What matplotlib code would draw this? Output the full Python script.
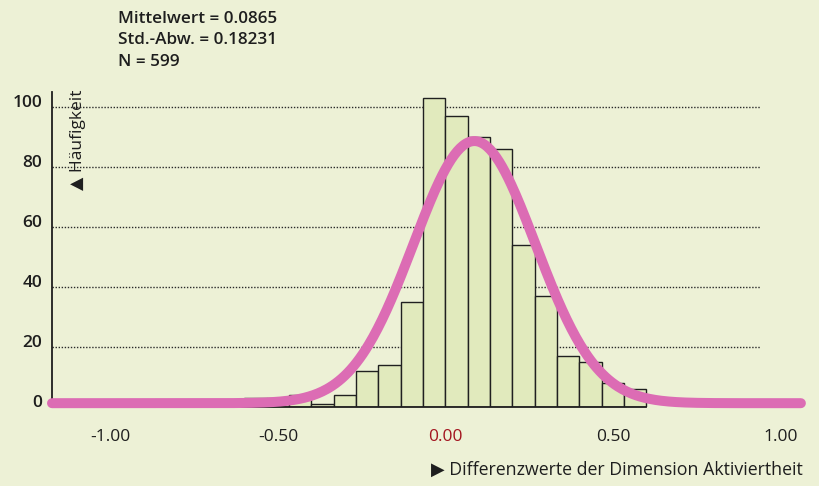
import numpy as np
import matplotlib
matplotlib.use("Agg")
import matplotlib.pyplot as plt
import matplotlib.transforms as mtransforms

# histogram data (bins of width 1/15 from -0.6 to 0.6)
bin_start = -0.6
bin_width = 1 / 15
counts = [3, 3, 4, 1, 4, 12, 14, 35, 103, 97, 90, 86, 54, 37, 17, 15, 8, 6]

# stats shown in the chart, used for the normal curve
mean = 0.0865
std = 0.18231
n = 599

x_ticks = [-1.0, -0.5, 0.0, 0.5, 1.0]
x_tick_labels = ["-1.00", "-0.50", "0.00", "0.50", "1.00"]
y_ticks = [0, 20, 40, 60, 80, 100]
y_tick_labels = ["0", "20", "40", "60", "80", "100"]

x_min, x_max = -1.1746, 1.075
curve_end = 1.061

bg = "#edf1d6"
bar_fill = "#e1eabd"
pink = "#dc6cb4"
ink = "#1e1e1e"
red = "#a3141f"

plt.rcParams['font.family'] = ['Open Sans', 'DejaVu Sans']

fig = plt.figure(figsize=(8.19, 4.86), dpi=100, facecolor=bg)
ax = fig.add_axes([0.0635, 0.1632, 0.9201, 0.6481])
ax.set_facecolor(bg)

# dotted grid lines, stopping short of the right edge
for y in y_ticks[1:]:
    ax.hlines(y, x_min, 0.94, colors="#2a2a2a", linestyles=(0, (1, 1.2)),
              linewidth=1.0, zorder=1)

edges = bin_start + bin_width * np.arange(len(counts))
ax.bar(edges, counts, width=bin_width, align='edge', color=bar_fill,
       edgecolor="#202020", linewidth=1.0, zorder=2)

# normal curve from the shown mean / std / N, line sits on the baseline
xs = np.linspace(x_min, curve_end, 500)
ys = n * bin_width * np.exp(-0.5 * ((xs - mean) / std) ** 2) / (std * np.sqrt(2 * np.pi))
lift = mtransforms.offset_copy(ax.transData, fig=fig, y=3.5, units='dots')
ax.plot(xs, ys, color=pink, linewidth=7.2, solid_capstyle='round',
        transform=lift, zorder=3, clip_on=False)

ax.set_xlim(x_min, x_max)
ax.set_ylim(0, 105)

for side in ['top', 'right']:
    ax.spines[side].set_visible(False)
ax.spines['left'].set_color(ink)
ax.spines['left'].set_linewidth(1.3)
ax.spines['bottom'].set_color(ink)
ax.spines['bottom'].set_linewidth(1.3)
ax.spines['bottom'].set_bounds(x_min, bin_start + bin_width * len(counts))

ax.set_xticks(x_ticks)
ax.set_xticklabels(x_tick_labels, fontweight='medium')
ax.set_yticks(y_ticks)
ax.set_yticklabels(y_tick_labels, fontweight='semibold')
ax.tick_params(axis='x', length=0, pad=16, labelsize=12.5, colors=ink)
ax.tick_params(axis='y', length=0, pad=7, labelsize=12.5, colors=ink)
for lbl in ax.get_yticklabels():
    lbl.set_verticalalignment('baseline')
ax.get_xticklabels()[2].set_color(red)

# axis titles placed like the print
fig.text(78 / 819, 1 - 190 / 486, "\u25b2 H\u00e4ufigkeit",
         rotation=90, ha='center', va='bottom', fontsize=12.5, color=ink)
fig.text(803 / 819, 1 - 470 / 486, "\u25b6 Differenzwerte der Dimension Aktiviertheit",
         ha='right', va='center', fontsize=12.8, color=ink)

stats = ["Mittelwert = 0.0865", "Std.-Abw. = 0.18231", "N = 599"]
for i, s in enumerate(stats):
    fig.text(118 / 819, 1 - (19 + 21.5 * i) / 486, s, ha='left', va='center',
             fontsize=12.3, fontweight='semibold', color=ink)

fig.savefig("out.png", dpi=100, facecolor=bg)
